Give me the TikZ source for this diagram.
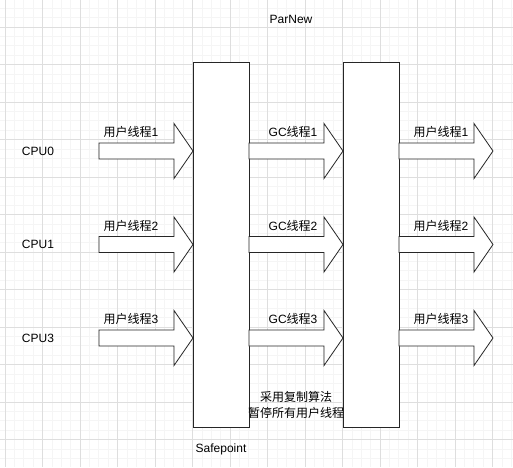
\documentclass[tikz,border=0pt]{standalone}
\usepackage{fontspec}
\setmainfont{Liberation Sans}
\newfontfamily\cjk{Noto Sans CJK SC}
\usetikzlibrary{positioning}

\begin{document}
\begin{tikzpicture}[x=1pt,y=-1pt,
    gridminor/.style={draw=black!4,line width=0.7pt},
    gridmajor/.style={draw=black!13,line width=1pt},
    phase/.style={draw=black!85,fill=white,line width=0.9pt,minimum width=56pt,minimum height=365pt,inner sep=0pt},
    blockarrow/.style={draw=black!85,fill=white,line width=0.8pt,line join=miter},
    lbl/.style={font=\fontsize{12}{16}\selectfont,inner sep=0pt,align=center}]
            \useasboundingbox (0,0) rectangle (513,467);
            % background grid
            \begin{scope}
              \clip (0,0) rectangle (513,467);
              \fill[white] (0,0) rectangle (513,467);
              \foreach \i in {0,...,54}{\draw[gridminor] ({5+9.375*\i},0)--({5+9.375*\i},467);}
              \foreach \i in {-2,...,46}{\draw[gridminor] (0,{27+9.375*\i})--(513,{27+9.375*\i});}
              \foreach \i in {0,...,13}{\draw[gridmajor] ({5+37.5*\i},0)--({5+37.5*\i},467);}
              \foreach \i in {0,...,11}{\draw[gridmajor] (0,{27+37.5*\i})--(513,{27+37.5*\i});}
            \end{scope}
            % the two pauses
            \node[phase] (stwa) at (221,244.5){};
            \node[phase] (stwb) at (371,244.5){};
            \node[lbl] (parnew) at (291,19){ParNew};
            \node[lbl,below=16pt of stwa] (safepoint){Safepoint};
            \node[lbl] (copynote) at (296,405){{\cjk 采用复制算法}\\{\cjk 暂停所有用户线程}};
            % threads per cpu
            \foreach \y/\c/\t in {151/0/1,244.5/1/2,338/3/3}{
              \node[lbl] (cpu\c) at (38,\y){CPU\c};
              \foreach \x in {99,249,399}
                \draw[blockarrow] (\x,\y-8)--(\x+75,\y-8)--(\x+75,\y-27.5)--(\x+94,\y)--(\x+75,\y+27.5)--(\x+75,\y+8)--(\x,\y+8)--cycle;
              \node[lbl] (usera\t) at (131,\y-19){{\cjk 用户线程}\t};
              \node[lbl] (gc\t) at (293,\y-19){GC{\cjk 线程}\t};
              \node[lbl] (userb\t) at (441,\y-19){{\cjk 用户线程}\t};
            }
          \end{tikzpicture}
\end{document}
